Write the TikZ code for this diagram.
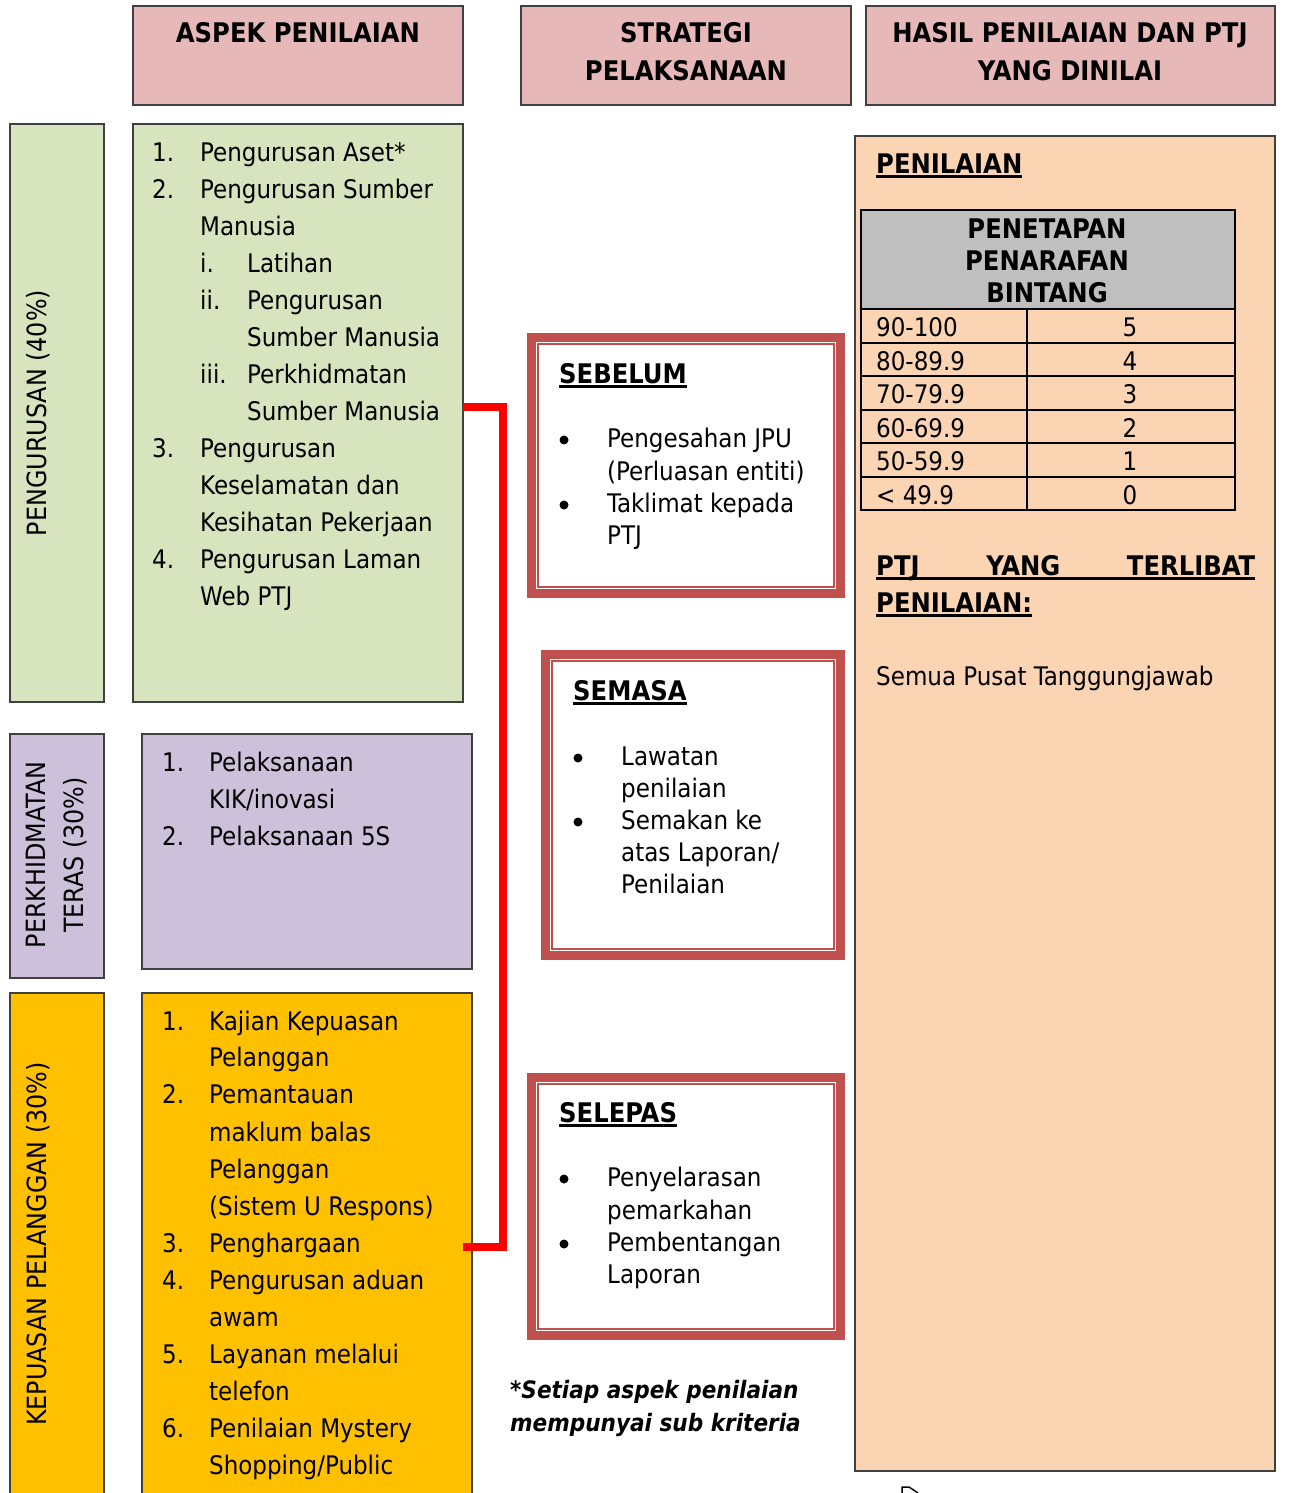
\documentclass[tikz,border=0pt]{standalone}
\usepackage{fontspec}
\setmainfont{DejaVu Sans Condensed}[BoldFont={DejaVu Sans Condensed Bold},ItalicFont={DejaVu Sans Condensed Oblique},BoldItalicFont={DejaVu Sans Condensed Bold Oblique}]
\definecolor{hdr}{HTML}{E6B8B7}
\definecolor{grn}{HTML}{D7E4BD}
\definecolor{prp}{HTML}{CCC0DA}
\definecolor{org}{HTML}{FFC000}
\definecolor{pch}{HTML}{FBD4B4}
\definecolor{tgray}{HTML}{BFBFBF}
\definecolor{frameRed}{HTML}{C0504D}
\definecolor{edge}{HTML}{404040}
\newcommand\myul[1]{\setbox0\hbox{#1}\leavevmode\rlap{\rule[-4.5pt]{\wd0}{3pt}}\box0}
\begin{document}
\begin{tikzpicture}[x=1pt,y=-1pt,
 box/.style={draw=edge, line width=1.5pt, anchor=north west, inner sep=0pt, outer sep=0pt},
 t/.style={anchor=base west, inner sep=0pt, font=\fontsize{25.6pt}{30pt}\selectfont},
 tc/.style={anchor=base, inner sep=0pt, font=\fontsize{25.6pt}{30pt}\selectfont},
 hb/.style={anchor=base, inner sep=0pt, font=\fontsize{27pt}{30pt}\selectfont\bfseries},
 hbl/.style={anchor=base west, inner sep=0pt, font=\fontsize{27pt}{30pt}\selectfont\bfseries},
 rot/.style={rotate=90, inner sep=0pt, font=\fontsize{26.5pt}{38pt}\selectfont, align=center},
 redframe/.style={draw=frameRed, line width=9pt, anchor=north west, inner sep=0pt, outer sep=0pt},
 redinner/.style={draw=frameRed, line width=2.5pt, anchor=north west, inner sep=0pt, outer sep=0pt},
 bul/.style={circle, fill=black, inner sep=0pt, minimum size=9pt},
 bracket/.style={draw=red, line width=8pt, line join=miter},
 tline/.style={draw=black, line width=2.5pt}
]
\useasboundingbox[fill=white] (0,0) rectangle (1292,1493);
\clip (0,0) rectangle (1292,1493);

% headers
\node[box, fill=hdr, minimum width=330pt, minimum height=99pt] (h1) at (133,6) {};
\node[hb] (h1t) at (298,43) {ASPEK PENILAIAN};
\node[box, fill=hdr, minimum width=330pt, minimum height=99pt] (h2) at (521,6) {};
\node[hb] (h2a) at (686,43) {STRATEGI};
\node[hb] (h2b) at (686,81) {PELAKSANAAN};
\node[box, fill=hdr, minimum width=409pt, minimum height=99pt] (h3) at (866,6) {};
\node[hb] (h3a) at (1070,43) {HASIL PENILAIAN DAN PTJ};
\node[hb] (h3b) at (1070,81) {YANG DINILAI};

% left labels
\node[box, fill=grn, minimum width=94pt, minimum height=578pt] (l1) at (10,124) {};
\node[rot] (l1t) at (38,413) {PENGURUSAN (40\%)};
\node[box, fill=prp, minimum width=94pt, minimum height=244pt] (l2) at (10,734) {};
\node[rot] (l2t) at (57,855) {PERKHIDMATAN\\TERAS (30\%)};
\node[box, fill=org, minimum width=94pt, minimum height=520pt] (l3) at (10,993) {};
\node[rot] (l3t) at (38,1244) {KEPUASAN PELANGGAN (30\%)};

% content boxes
\node[box, fill=grn, minimum width=330pt, minimum height=578pt] (green) at (133,124) {};
\node[box, fill=prp, minimum width=330pt, minimum height=235pt] (purple) at (142,734) {};
\node[box, fill=org, minimum width=330pt, minimum height=520pt] (orange) at (142,993) {};

% green text
\node[t] (g1n) at (152,161) {1.};  \node[t] (g1) at (200,161) {Pengurusan Aset*};
\node[t] (g2n) at (152,198) {2.};  \node[t] (g2) at (200,198) {Pengurusan Sumber};
\node[t] (g3) at (200,235) {Manusia};
\node[t] (g4n) at (200,272) {i.};  \node[t] (g4) at (247,272) {Latihan};
\node[t] (g5n) at (200,309) {ii.}; \node[t] (g5) at (247,309) {Pengurusan};
\node[t] (g6) at (247,346) {Sumber Manusia};
\node[t] (g7n) at (200,383) {iii.};\node[t] (g7) at (247,383) {Perkhidmatan};
\node[t] (g8) at (247,420) {Sumber Manusia};
\node[t] (g9n) at (152,457) {3.};  \node[t] (g9) at (200,457) {Pengurusan};
\node[t] (g10) at (200,494) {Keselamatan dan};
\node[t] (g11) at (200,531) {Kesihatan Pekerjaan};
\node[t] (g12n) at (152,568) {4.}; \node[t] (g12) at (200,568) {Pengurusan Laman};
\node[t] (g13) at (200,605) {Web PTJ};

% purple text
\node[t] (p1n) at (162,771) {1.}; \node[t] (p1) at (209,771) {Pelaksanaan};
\node[t] (p2) at (209,808) {KIK/inovasi};
\node[t] (p3n) at (162,845) {2.}; \node[t] (p3) at (209,845) {Pelaksanaan 5S};

% orange text
\node[t] (o1n) at (162,1030) {1.}; \node[t] (o1) at (209,1030) {Kajian Kepuasan};
\node[t] (o2) at (209,1066) {Pelanggan};
\node[t] (o3n) at (162,1103) {2.}; \node[t] (o3) at (209,1103) {Pemantauan};
\node[t] (o4) at (209,1141) {maklum balas};
\node[t] (o5) at (209,1178) {Pelanggan};
\node[t] (o6) at (209,1215) {(Sistem U Respons)};
\node[t] (o7n) at (162,1252) {3.}; \node[t] (o7) at (209,1252) {Penghargaan};
\node[t] (o8n) at (162,1289) {4.}; \node[t] (o8) at (209,1289) {Pengurusan aduan};
\node[t] (o9) at (209,1326) {awam};
\node[t] (o10n) at (162,1363) {5.}; \node[t] (o10) at (209,1363) {Layanan melalui};
\node[t] (o11) at (209,1400) {telefon};
\node[t] (o12n) at (162,1437) {6.}; \node[t] (o12) at (209,1437) {Penilaian Mystery};
\node[t] (o13) at (209,1474) {Shopping/Public};

% red bracket
\coordinate (bTop) at (463,407);
\coordinate (bBot) at (463,1247);
\draw[bracket] (bTop) -- ++(40,0) |- (bBot);

% SEBELUM
\node[redframe, minimum width=309pt, minimum height=256pt] (sebO) at (531.5,337.5) {};
\node[redinner, minimum width=296pt, minimum height=243pt] (sebI) at (538,344) {};
\node[hbl] (sebT) at (559,383) {\myul{SEBELUM}};
\node[bul] (sebB1) at (564,440) {}; \node[t] (seb1) at (607,447) {Pengesahan JPU};
\node[t] (seb2) at (607,480) {(Perluasan entiti)};
\node[bul] (sebB2) at (564,505) {}; \node[t] (seb3) at (607,512) {Taklimat kepada};
\node[t] (seb4) at (607,544) {PTJ};

% SEMASA
\node[redframe, minimum width=295pt, minimum height=301pt] (semO) at (545.5,654.5) {};
\node[redinner, minimum width=282pt, minimum height=288pt] (semI) at (552,661) {};
\node[hbl] (semT) at (573,700) {\myul{SEMASA}};
\node[bul] (semB1) at (578,758) {}; \node[t] (sem1) at (621,765) {Lawatan};
\node[t] (sem2) at (621,797) {penilaian};
\node[bul] (semB2) at (578,822) {}; \node[t] (sem3) at (621,829) {Semakan ke};
\node[t] (sem4) at (621,861) {atas Laporan/};
\node[t] (sem5) at (621,893) {Penilaian};

% SELEPAS
\node[redframe, minimum width=309pt, minimum height=258pt] (selO) at (531.5,1077.5) {};
\node[redinner, minimum width=296pt, minimum height=245pt] (selI) at (538,1084) {};
\node[hbl] (selT) at (559,1122) {\myul{SELEPAS}};
\node[bul] (selB1) at (564,1179) {}; \node[t] (sel1) at (607,1186) {Penyelarasan};
\node[t] (sel2) at (607,1219) {pemarkahan};
\node[bul] (selB2) at (564,1244) {}; \node[t] (sel3) at (607,1251) {Pembentangan};
\node[t] (sel4) at (607,1283) {Laporan};

% footnote
\node[anchor=base west, inner sep=0pt, font=\fontsize{24pt}{30pt}\selectfont\bfseries\itshape] (fn1) at (510,1398) {*Setiap aspek penilaian};
\node[anchor=base west, inner sep=0pt, font=\fontsize{24pt}{30pt}\selectfont\bfseries\itshape] (fn2) at (510,1431) {mempunyai sub kriteria};

% right panel
\node[box, fill=pch, minimum width=420pt, minimum height=1335pt] (res) at (855,136) {};
\node[hbl] (penT) at (876,173) {\myul{PENILAIAN}};

% table
\node[anchor=north west, inner sep=0pt, fill=tgray, minimum width=374pt, minimum height=99pt] (tabH) at (861,210) {};
\draw[tline] (861,210) rectangle (1235,510);
\foreach \yy in {309,343,376,410,443,477} \draw[tline] (861,\yy) -- (1235,\yy);
\draw[tline] (1027,309) -- (1027,510);
\node[hb] (tH1) at (1047,238) {PENETAPAN};
\node[hb] (tH2) at (1047,270) {PENARAFAN};
\node[hb] (tH3) at (1047,302) {BINTANG};
\node[t] (r1a) at (876,336) {90-100};  \node[tc] (r1b) at (1130,336) {5};
\node[t] (r2a) at (876,370) {80-89.9};  \node[tc] (r2b) at (1130,370) {4};
\node[t] (r3a) at (876,403) {70-79.9};  \node[tc] (r3b) at (1130,403) {3};
\node[t] (r4a) at (876,437) {60-69.9};  \node[tc] (r4b) at (1130,437) {2};
\node[t] (r5a) at (876,470) {50-59.9};  \node[tc] (r5b) at (1130,470) {1};
\node[t] (r6a) at (876,504) {< 49.9};  \node[tc] (r6b) at (1130,504) {0};

\node[hbl] (ptjT) at (876,575) {\myul{\hbox to 379pt{PTJ\hfill YANG\hfill TERLIBAT}}};
\node[hbl] (ptjT2) at (876,612) {\myul{PENILAIAN:}};
\node[t] (semua) at (876,685) {Semua Pusat Tanggungjawab};

% small mark at bottom edge
\draw[line width=1.5pt] (902,1493) -- (902,1487) -- (909,1487) -- (918,1493);
\end{tikzpicture}
\end{document}
